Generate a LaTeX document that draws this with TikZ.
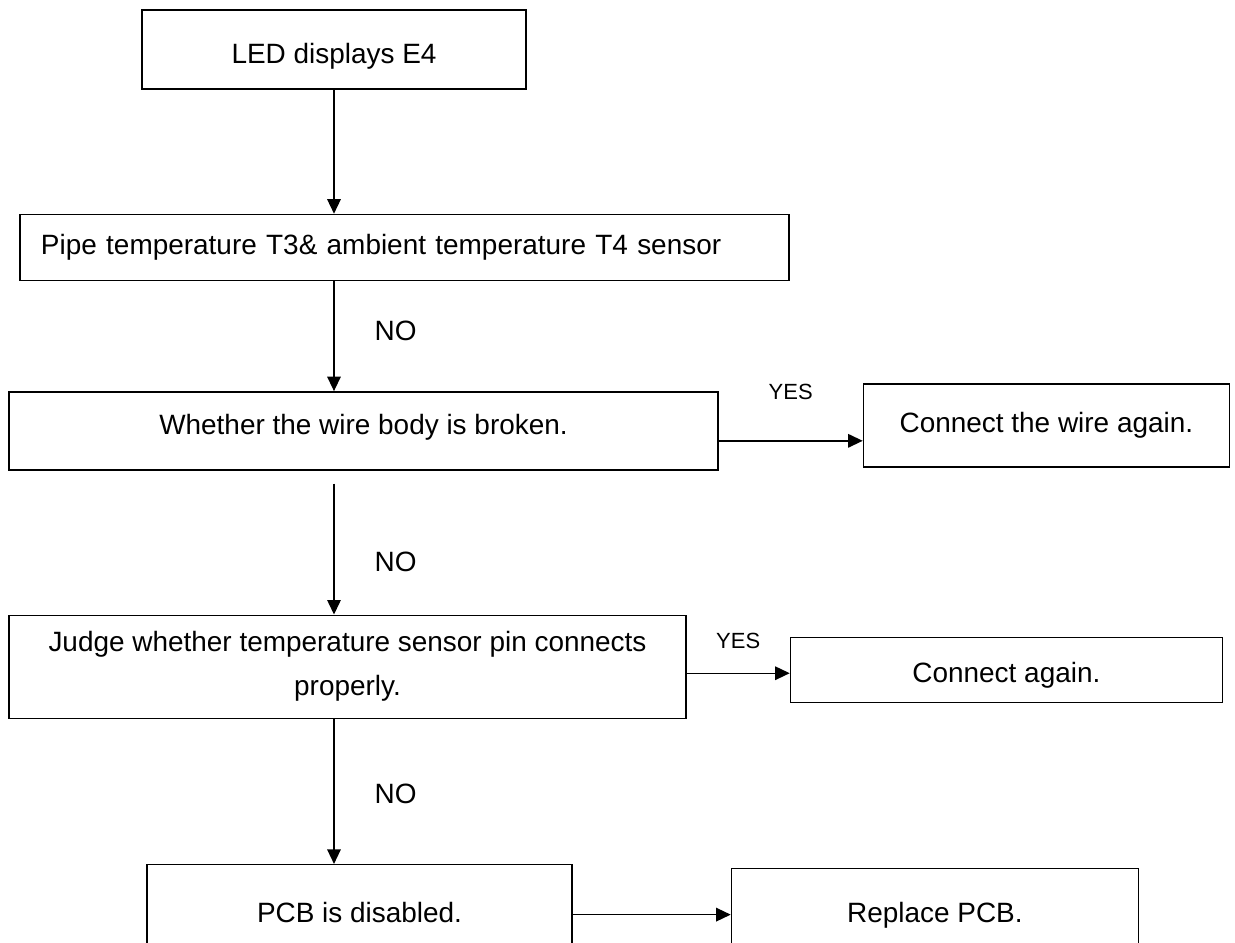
\documentclass[tikz,border=0pt]{standalone}
\usepackage{fontspec}
\setmainfont{Liberation Sans}
\usetikzlibrary{positioning,arrows.meta,calc}

\begin{document}
\begin{tikzpicture}[
      font=\fontsize{15.9}{25}\selectfont,
      box/.style={draw, line width=0.8pt, align=center, inner sep=0pt},
      lbl/.style={inner sep=0pt},
      yes/.style={lbl, font=\fontsize{12.5}{15}\selectfont},
      arr/.style={-{Triangle[length=2.9mm, width=2.7mm]}, line width=0.8pt}
    ]
    \useasboundingbox (0,0) rectangle (24.7,-18.84);
    % main column
    \node[box, minimum width=7.68cm, text height=1.06cm, text depth=0.52cm] (lead) at (6.68,-0.99) {LED displays E4};
    \node[box, minimum width=15.38cm, minimum height=1.32cm, below=2.48cm of lead, xshift=1.41cm,
          text width=14.54cm, inner xsep=0.42cm, align=left] (sensor) {Pipe temperature T3\& ambient temperature T4 sensor};
    \node[box, minimum width=14.18cm, text height=0.86cm, text depth=0.7cm, below=2.2cm of sensor, xshift=-0.82cm] (wire) {Whether the wire body is broken.};
    \node[box, minimum width=13.54cm, minimum height=2.06cm, below=2.88cm of wire, xshift=-0.32cm] (pin) {Judge whether temperature sensor pin connects\\properly.};
    % bottom row runs off the page
    \node[box, minimum width=8.5cm, text height=1.16cm, text depth=1.26cm, below=2.9cm of pin, xshift=0.24cm] (pcb) {PCB is disabled.};
    % right column
    \node[box, minimum width=7.32cm, minimum height=1.66cm, right=2.88cm of wire, yshift=0.11cm] (rewire) {Connect the wire again.};
    \node[box, minimum width=8.64cm, text height=0.9cm, text depth=0.4cm, right=2.06cm of pin, yshift=-0.06cm] (again) {Connect again.};
    \node[box, minimum width=8.14cm, text height=1.08cm, text depth=1.26cm, right=3.16cm of pcb, yshift=-0.04cm] (replace) {Replace PCB.};
    % edges
    \draw[arr] (lead.south) -- (lead.south |- sensor.north);
    \draw[arr] (sensor.south -| lead.south) -- node[lbl, right=0.8cm, pos=0.45]{NO} (wire.north -| lead.south);
    \draw[arr] ($(wire.south -| lead.south)+(0,-0.26)$) -- node[lbl, right=0.8cm, pos=0.6]{NO} (pin.north -| lead.south);
    \draw[arr] (pin.south -| lead.south) -- node[lbl, right=0.8cm, pos=0.52]{NO} (pcb.north -| lead.south);
    \draw[arr] ([yshift=-2mm]wire.east) -- node[yes, above=0.8cm]{YES} ([yshift=-2mm]wire.east -| rewire.west);
    \draw[arr] ([yshift=-1.3mm]pin.east) -- node[yes, above=0.48cm]{YES} ([yshift=-1.3mm]pin.east -| again.west);
    \draw[arr] ([yshift=2.1mm]pcb.east) -- ([yshift=2.1mm]pcb.east -| replace.west);
  \end{tikzpicture}
\end{document}
